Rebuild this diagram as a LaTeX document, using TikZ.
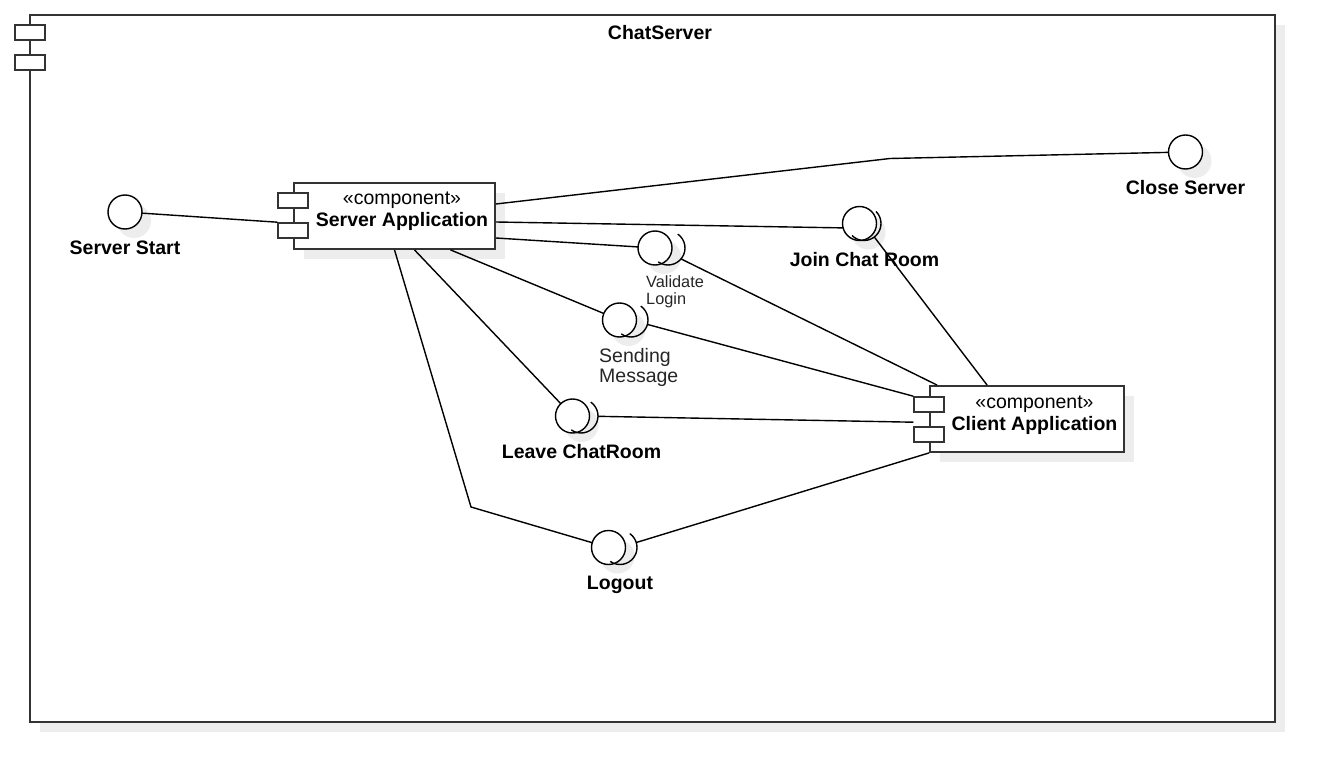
\documentclass[tikz,border=0pt]{standalone}
\usepackage{fontspec}
\setmainfont{Liberation Sans}
\usetikzlibrary{positioning, calc, shadows}
\newcommand{\umlfont}{\fontsize{19.5}{22}\selectfont}
\newcommand{\umlnote}{\fontsize{19.5}{20}\selectfont}
\newcommand{\umlsmall}{\fontsize{16.3}{17}\selectfont}

\begin{document}
\begin{tikzpicture}[
        x=1pt, y=-1pt,
        frame/.style={rectangle, draw=black!80, line width=2pt, fill=white, minimum width=1245pt, minimum height=707pt, drop shadow={shadow xshift=10pt, shadow yshift=-10pt, fill=black!7, opacity=1}},
        port/.style={rectangle, draw=black!80, line width=1.6pt, fill=white, minimum width=30pt, minimum height=15pt, inner sep=0pt},
        comp/.style={rectangle, draw=black!80, line width=1.8pt, fill=white, minimum width=201pt, minimum height=66pt, inner sep=0pt, drop shadow={shadow xshift=10pt, shadow yshift=-10pt, fill=black!7, opacity=1}},
        comptext/.style={align=center, font=\umlfont, inner sep=0pt},
        ball/.style={circle, draw, line width=1.4pt, fill=white, minimum size=34pt, inner sep=0pt, outer sep=0pt, drop shadow={shadow xshift=9pt, shadow yshift=-9pt, fill=black!7, opacity=1}},
        socket/.style={circle, minimum size=34pt, inner sep=0pt, outer sep=0pt},
        link/.style={line width=1.4pt},
        lbl/.style={font=\umlfont\bfseries, inner sep=0pt},
        note/.style={font=\umlnote, inner sep=0pt, align=left, text=black!85}
    ]
    \useasboundingbox (0,0) rectangle (1335,783);

    % Outer component
    \node[frame] (frame) at (652.5,368.5) {};
    \node[port] (framep1) at (30,32.5) {};
    \node[port] (framep2) at (30,62.5) {};
    \node[lbl, below=11pt of frame.north, xshift=7.5pt] (title) {ChatServer};

    % Server Application
    \node[comp] (srvapp) at (394.5,216) {};
    \node[port] (srvp1) at ([yshift=15.5pt]srvapp.west) {};
    \node[port] (srvp2) at ([yshift=-14.5pt]srvapp.west) {};
    \node[comptext] (srvapp-t) at ([xshift=7.5pt, yshift=5pt]srvapp.center) {«component»\\\textbf{Server Application}};

    % Client Application
    \node[comp, minimum width=194pt] (clt) at (1027,419) {};
    \node[port] (cltp1) at ([yshift=14.5pt]clt.west) {};
    \node[port] (cltp2) at ([yshift=-15.5pt]clt.west) {};
    \node[comptext] (clt-t) at ([xshift=7.5pt, yshift=4pt]clt.center) {«component»\\\textbf{Client Application}};

    % Provided interfaces
    \node[ball] (ssrv) at (125,212) {};
    \node[lbl, below=12pt of ssrv] {Server Start};
    \node[ball] (csrv) at (1185.5,152) {};
    \node[lbl, below=11pt of csrv] {Close Server};

    % Required interfaces (ball + socket)
    \node[ball] (join) at (859.5,223.5) {};
    \node[socket] (join-s) at (864,223.5) {};
    \node[lbl, below=12pt of join, xshift=5pt] {Join Chat Room};

    \node[ball] (vl) at (655,248) {};
    \node[socket] (vl-s) at (668,248) {};
    \node[note, font=\umlsmall, below=10pt of vl.south, anchor=north west, xshift=-9pt] {Validate\\Login};

    \node[ball] (sm) at (619.5,320) {};
    \node[socket] (sm-s) at (631,320) {};
    \node[note, below=11pt of sm.south, anchor=north west, xshift=-20.5pt] {Sending\\Message};

    \node[ball] (lv) at (572.5,416) {};
    \node[socket] (lv-s) at (581,416) {};
    \node[lbl, below=11pt of lv, xshift=9pt] {Leave ChatRoom};

    \node[ball] (lo) at (608.5,547.5) {};
    \node[socket] (lo-s) at (620,547.5) {};
    \node[lbl, below=11pt of lo, xshift=11.5pt] {Logout};

    % Sockets
    \draw[link] (join-s.45) arc[start angle=45, end angle=-135, radius=17pt];
    \draw[link] (vl-s.55) arc[start angle=55, end angle=-125, radius=17pt];
    \draw[link] (sm-s.55) arc[start angle=55, end angle=-125, radius=17pt];
    \draw[link] (lv-s.55) arc[start angle=55, end angle=-125, radius=17pt];
    \draw[link] (lo-s.55) arc[start angle=55, end angle=-125, radius=17pt];

    % Server side links
    \coordinate (bend1) at (890,158.5);
    \coordinate (bend2) at (471,507);
    \draw[link] (ssrv) -- (srvp2.north west);
    \draw[link] ([yshift=12pt]srvapp.east) -- (bend1) -- (csrv);
    \draw[link] ([yshift=-6pt]srvapp.east) -- (join.195);
    \draw[link] ([yshift=-22pt]srvapp.east) -- (vl);
    \draw[link] ([xshift=56pt]srvapp.south) -- (sm);
    \draw[link] ([xshift=20pt]srvapp.south) -- (lv);
    \draw[link] (srvapp.south) -- (bend2) -- (lo);

    % Client side links
    \draw[link] (vl-s.-40) -- ([xshift=8pt]clt.north west);
    \draw[link] (join-s) -- ([xshift=58pt]clt.north west);
    \draw[link] (sm-s) -- (cltp1.north west);
    \draw[link] (lv-s) -- ([yshift=4pt]cltp2.north west);
    \draw[link] (lo-s) -- (clt.south west);

\end{tikzpicture}
\end{document}
